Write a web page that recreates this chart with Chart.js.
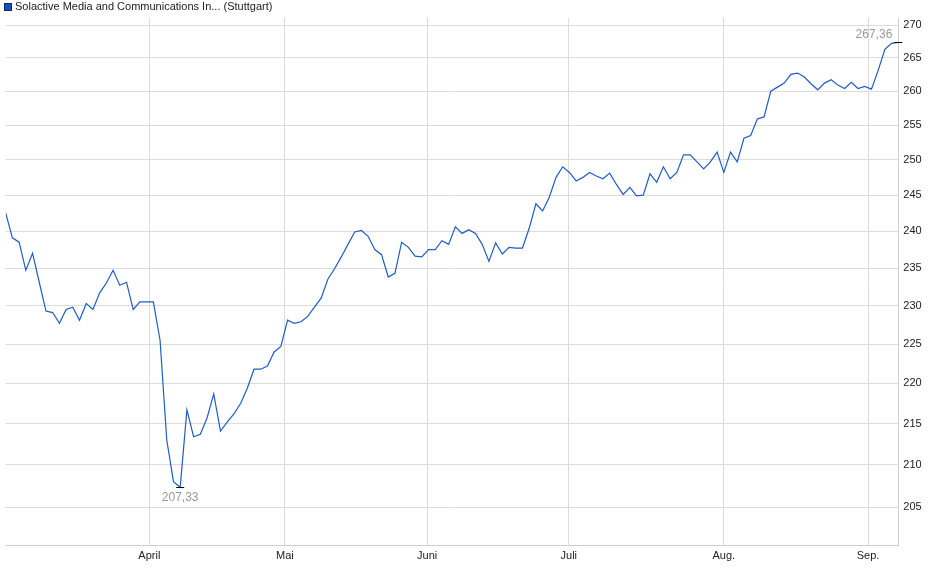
<!DOCTYPE html>
<html>
<head>
<meta charset="utf-8">
<script src="https://cdn.jsdelivr.net/npm/chart.js@4"></script>
<style>
  body { margin: 0; background: #fff; }
  #wrap { width: 940px; height: 579px; }
</style>
</head>
<body>
<div id="wrap"><canvas id="chart"></canvas></div>
<script>
// series title
const seriesName = "Solactive Media and Communications In... (Stuttgart)";

// daily closes, one per trading day
const prices = [
  242.5, 239.1, 238.5, 234.7, 237.0, 233.1, 229.3, 229.1, 227.7, 229.5,
  229.8, 228.1, 230.3, 229.5, 231.7, 233.0, 234.7, 232.7, 233.1, 229.5,
  230.5, 230.5, 230.5, 225.5, 213.0, 208.0, 207.33, 216.7, 213.4, 213.7,
  215.7, 218.7, 214.1, 215.2, 216.2, 217.5, 219.4, 221.8, 221.8, 222.2,
  224.0, 224.7, 228.1, 227.7, 227.9, 228.6, 229.8, 231.0, 233.5, 234.9,
  236.5, 238.2, 239.9, 240.1, 239.3, 237.5, 236.8, 233.8, 234.3, 238.5,
  237.8, 236.6, 236.5, 237.5, 237.5, 238.7, 238.2, 240.6, 239.7, 240.2,
  239.7, 238.2, 235.9, 238.4, 236.9, 237.8, 237.7, 237.7, 240.4, 243.8,
  242.8, 244.7, 247.5, 249.0, 248.2, 247.0, 247.5, 248.2, 247.7, 247.3,
  248.1, 246.5, 245.1, 246.1, 244.9, 245.0, 248.0, 246.8, 249.0, 247.3,
  248.2, 250.7, 250.7, 249.7, 248.7, 249.7, 251.1, 248.2, 251.1, 249.7,
  253.1, 253.5, 255.9, 256.2, 260.0, 260.6, 261.2, 262.5, 262.7, 262.1,
  261.1, 260.2, 261.2, 261.7, 260.9, 260.4, 261.3, 260.4, 260.7, 260.3,
  263.1, 266.3, 267.2, 267.36
];

// month labels and where they sit (trading day index)
const monthLabels = ["April", "Mai", "Juni", "Juli", "Aug.", "Sep."];
const monthPos = [21.4, 41.6, 62.8, 83.9, 107.0, 128.5];

const yTicks = [205, 210, 215, 220, 225, 230, 235, 240, 245, 250, 255, 260, 265, 270];

const points = prices.map((p, i) => ({ x: i, y: p }));

const fmt = v => v.toFixed(2).replace(".", ",");

// ==========================================
// header + min/max markers
// ==========================================
const extras = {
    id: "extras",
    afterDraw(chart) {
        const ctx = chart.ctx;
        const xs = chart.scales.x;
        const ys = chart.scales.y;

        ctx.save();
        ctx.fillStyle = "#1a4fb4";
        ctx.fillRect(4, 3, 8, 8);
        ctx.strokeStyle = "#0a2a70";
        ctx.strokeRect(4.5, 3.5, 7, 7);
        ctx.fillStyle = "#222";
        ctx.font = "11px 'Liberation Sans', Arial, sans-serif";
        ctx.textBaseline = "middle";
        ctx.fillText(seriesName, 15, 7);

        const hi = prices.indexOf(Math.max(...prices));
        const lo = prices.indexOf(Math.min(...prices));
        ctx.strokeStyle = "#000";
        ctx.lineWidth = 1;
        ctx.font = "12px 'Liberation Sans', Arial, sans-serif";
        ctx.fillStyle = "#999";

        const hx = xs.getPixelForValue(hi), hy = Math.round(ys.getPixelForValue(prices[hi])) + 0.5;
        ctx.beginPath(); ctx.moveTo(hx - 4, hy); ctx.lineTo(hx + 4, hy); ctx.stroke();
        ctx.textAlign = "right";
        ctx.textBaseline = "bottom";
        ctx.fillText(fmt(prices[hi]), hx - 6, hy - 2);

        const lx = xs.getPixelForValue(lo), ly = Math.round(ys.getPixelForValue(prices[lo])) + 0.5;
        ctx.beginPath(); ctx.moveTo(lx - 4, ly); ctx.lineTo(lx + 4, ly); ctx.stroke();
        ctx.textAlign = "center";
        ctx.textBaseline = "top";
        ctx.fillText(fmt(prices[lo]), lx, ly + 4);
        ctx.restore();
    }
};

new Chart(document.getElementById("chart"), {
    type: "line",
    data: {
        datasets: [{
            label: seriesName,
            data: points,
            borderColor: "#1f5cc8",
            borderWidth: 1.2,
            pointRadius: 0,
            tension: 0
        }]
    },
    options: {
        responsive: true,
        maintainAspectRatio: false,
        animation: false,
        layout: { padding: { left: 5.7, top: 18, right: 0, bottom: 0 } },
        plugins: { legend: { display: false }, tooltip: { enabled: false } },
        scales: {
            x: {
                type: "linear",
                min: 0,
                max: prices.length - 1,
                afterBuildTicks: s => { s.ticks = monthPos.map(v => ({ value: v })); },
                afterFit: s => { s.height = 34; },
                grid: { color: "#dcdcdc", drawTicks: false },
                border: { color: "#cfcfcf" },
                ticks: {
                    padding: 4,
                    color: "#222",
                    font: { family: "'Liberation Sans', Arial", size: 11 },
                    callback: (v, i) => monthLabels[i]
                }
            },
            y: {
                type: "logarithmic",
                position: "right",
                min: 200.6,
                max: 271.1,
                afterBuildTicks: s => { s.ticks = yTicks.map(v => ({ value: v })); },
                afterFit: s => { s.width = 940 - 898.3; },
                grid: { color: "#dcdcdc", drawTicks: false },
                border: { color: "#cfcfcf" },
                ticks: {
                    padding: 5,
                    color: "#222",
                    font: { family: "'Liberation Sans', Arial", size: 11 },
                    callback: v => String(v)
                }
            }
        }
    },
    plugins: [extras]
});
</script>
</body>
</html>
